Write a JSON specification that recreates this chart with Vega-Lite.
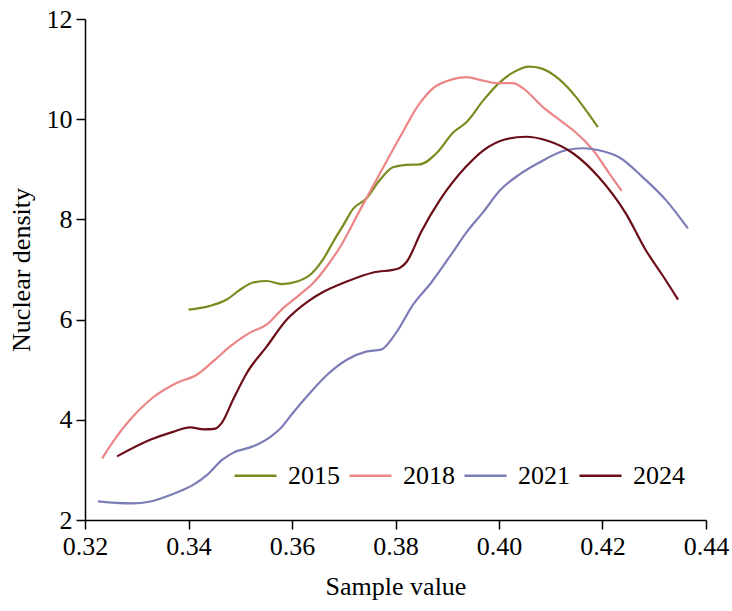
{
  "$schema": "https://vega.github.io/schema/vega-lite/v6.json",
  "width": 621,
  "height": 501,
  "autosize": {"type": "none"},
  "padding": {"left": 85, "top": 19, "right": 26, "bottom": 91},
  "background": "white",
  "config": {
    "view": {"stroke": null},
    "font": "Liberation Serif, Times New Roman, serif",
    "axis": {
      "grid": false,
      "labelFlush": false,
      "domainColor": "#000000",
      "domainWidth": 1.5,
      "tickColor": "#000000",
      "tickWidth": 1.5,
      "tickSize": 9,
      "labelColor": "#000000",
      "labelFont": "Liberation Serif, Times New Roman, serif",
      "labelFontSize": 26,
      "titleColor": "#000000",
      "titleFont": "Liberation Serif, Times New Roman, serif",
      "titleFontSize": 26,
      "titleFontWeight": "normal"
    }
  },
  "data": {
    "values": [
      {"x": 0.3400, "y": 6.20, "year": "2015"},
      {"x": 0.3440, "y": 6.27, "year": "2015"},
      {"x": 0.3474, "y": 6.40, "year": "2015"},
      {"x": 0.3500, "y": 6.60, "year": "2015"},
      {"x": 0.3525, "y": 6.74, "year": "2015"},
      {"x": 0.3551, "y": 6.77, "year": "2015"},
      {"x": 0.3580, "y": 6.71, "year": "2015"},
      {"x": 0.3610, "y": 6.76, "year": "2015"},
      {"x": 0.3638, "y": 6.92, "year": "2015"},
      {"x": 0.3660, "y": 7.20, "year": "2015"},
      {"x": 0.3680, "y": 7.56, "year": "2015"},
      {"x": 0.3700, "y": 7.90, "year": "2015"},
      {"x": 0.3718, "y": 8.21, "year": "2015"},
      {"x": 0.3743, "y": 8.41, "year": "2015"},
      {"x": 0.3770, "y": 8.79, "year": "2015"},
      {"x": 0.3795, "y": 9.04, "year": "2015"},
      {"x": 0.3820, "y": 9.09, "year": "2015"},
      {"x": 0.3847, "y": 9.10, "year": "2015"},
      {"x": 0.3880, "y": 9.33, "year": "2015"},
      {"x": 0.3911, "y": 9.73, "year": "2015"},
      {"x": 0.3938, "y": 9.95, "year": "2015"},
      {"x": 0.3970, "y": 10.38, "year": "2015"},
      {"x": 0.4002, "y": 10.74, "year": "2015"},
      {"x": 0.4030, "y": 10.95, "year": "2015"},
      {"x": 0.4058, "y": 11.05, "year": "2015"},
      {"x": 0.4080, "y": 11.02, "year": "2015"},
      {"x": 0.4116, "y": 10.80, "year": "2015"},
      {"x": 0.4149, "y": 10.44, "year": "2015"},
      {"x": 0.4170, "y": 10.15, "year": "2015"},
      {"x": 0.4191, "y": 9.84, "year": "2015"},

      {"x": 0.3233, "y": 3.23, "year": "2018"},
      {"x": 0.3260, "y": 3.65, "year": "2018"},
      {"x": 0.3287, "y": 4.00, "year": "2018"},
      {"x": 0.3332, "y": 4.45, "year": "2018"},
      {"x": 0.3378, "y": 4.74, "year": "2018"},
      {"x": 0.3416, "y": 4.90, "year": "2018"},
      {"x": 0.3448, "y": 5.17, "year": "2018"},
      {"x": 0.3480, "y": 5.46, "year": "2018"},
      {"x": 0.3519, "y": 5.74, "year": "2018"},
      {"x": 0.3551, "y": 5.90, "year": "2018"},
      {"x": 0.3580, "y": 6.20, "year": "2018"},
      {"x": 0.3615, "y": 6.50, "year": "2018"},
      {"x": 0.3641, "y": 6.73, "year": "2018"},
      {"x": 0.3670, "y": 7.10, "year": "2018"},
      {"x": 0.3693, "y": 7.45, "year": "2018"},
      {"x": 0.3731, "y": 8.18, "year": "2018"},
      {"x": 0.3770, "y": 8.92, "year": "2018"},
      {"x": 0.3809, "y": 9.65, "year": "2018"},
      {"x": 0.3847, "y": 10.32, "year": "2018"},
      {"x": 0.3873, "y": 10.62, "year": "2018"},
      {"x": 0.3911, "y": 10.80, "year": "2018"},
      {"x": 0.3938, "y": 10.84, "year": "2018"},
      {"x": 0.3965, "y": 10.78, "year": "2018"},
      {"x": 0.3998, "y": 10.72, "year": "2018"},
      {"x": 0.4027, "y": 10.72, "year": "2018"},
      {"x": 0.4046, "y": 10.62, "year": "2018"},
      {"x": 0.4085, "y": 10.24, "year": "2018"},
      {"x": 0.4124, "y": 9.93, "year": "2018"},
      {"x": 0.4149, "y": 9.73, "year": "2018"},
      {"x": 0.4182, "y": 9.38, "year": "2018"},
      {"x": 0.4213, "y": 8.92, "year": "2018"},
      {"x": 0.4237, "y": 8.57, "year": "2018"},

      {"x": 0.3225, "y": 2.37, "year": "2021"},
      {"x": 0.3260, "y": 2.34, "year": "2021"},
      {"x": 0.3293, "y": 2.33, "year": "2021"},
      {"x": 0.3326, "y": 2.37, "year": "2021"},
      {"x": 0.3370, "y": 2.52, "year": "2021"},
      {"x": 0.3409, "y": 2.70, "year": "2021"},
      {"x": 0.3436, "y": 2.90, "year": "2021"},
      {"x": 0.3465, "y": 3.20, "year": "2021"},
      {"x": 0.3486, "y": 3.34, "year": "2021"},
      {"x": 0.3525, "y": 3.47, "year": "2021"},
      {"x": 0.3557, "y": 3.65, "year": "2021"},
      {"x": 0.3577, "y": 3.82, "year": "2021"},
      {"x": 0.3602, "y": 4.14, "year": "2021"},
      {"x": 0.3635, "y": 4.54, "year": "2021"},
      {"x": 0.3668, "y": 4.90, "year": "2021"},
      {"x": 0.3706, "y": 5.20, "year": "2021"},
      {"x": 0.3743, "y": 5.36, "year": "2021"},
      {"x": 0.3772, "y": 5.40, "year": "2021"},
      {"x": 0.3800, "y": 5.72, "year": "2021"},
      {"x": 0.3834, "y": 6.30, "year": "2021"},
      {"x": 0.3870, "y": 6.75, "year": "2021"},
      {"x": 0.3905, "y": 7.26, "year": "2021"},
      {"x": 0.3940, "y": 7.78, "year": "2021"},
      {"x": 0.3969, "y": 8.14, "year": "2021"},
      {"x": 0.4002, "y": 8.58, "year": "2021"},
      {"x": 0.4040, "y": 8.90, "year": "2021"},
      {"x": 0.4077, "y": 9.13, "year": "2021"},
      {"x": 0.4129, "y": 9.38, "year": "2021"},
      {"x": 0.4162, "y": 9.42, "year": "2021"},
      {"x": 0.4193, "y": 9.38, "year": "2021"},
      {"x": 0.4232, "y": 9.24, "year": "2021"},
      {"x": 0.4278, "y": 8.84, "year": "2021"},
      {"x": 0.4323, "y": 8.38, "year": "2021"},
      {"x": 0.4365, "y": 7.82, "year": "2021"},

      {"x": 0.3262, "y": 3.27, "year": "2024"},
      {"x": 0.3326, "y": 3.60, "year": "2024"},
      {"x": 0.3370, "y": 3.76, "year": "2024"},
      {"x": 0.3403, "y": 3.85, "year": "2024"},
      {"x": 0.3430, "y": 3.81, "year": "2024"},
      {"x": 0.3450, "y": 3.82, "year": "2024"},
      {"x": 0.3465, "y": 3.95, "year": "2024"},
      {"x": 0.3486, "y": 4.40, "year": "2024"},
      {"x": 0.3513, "y": 4.94, "year": "2024"},
      {"x": 0.3551, "y": 5.46, "year": "2024"},
      {"x": 0.3590, "y": 6.00, "year": "2024"},
      {"x": 0.3629, "y": 6.35, "year": "2024"},
      {"x": 0.3660, "y": 6.55, "year": "2024"},
      {"x": 0.3706, "y": 6.76, "year": "2024"},
      {"x": 0.3757, "y": 6.94, "year": "2024"},
      {"x": 0.3803, "y": 7.01, "year": "2024"},
      {"x": 0.3822, "y": 7.16, "year": "2024"},
      {"x": 0.3850, "y": 7.76, "year": "2024"},
      {"x": 0.3886, "y": 8.39, "year": "2024"},
      {"x": 0.3936, "y": 9.05, "year": "2024"},
      {"x": 0.3970, "y": 9.38, "year": "2024"},
      {"x": 0.4013, "y": 9.60, "year": "2024"},
      {"x": 0.4052, "y": 9.65, "year": "2024"},
      {"x": 0.4091, "y": 9.58, "year": "2024"},
      {"x": 0.4143, "y": 9.32, "year": "2024"},
      {"x": 0.4193, "y": 8.84, "year": "2024"},
      {"x": 0.4245, "y": 8.12, "year": "2024"},
      {"x": 0.4284, "y": 7.38, "year": "2024"},
      {"x": 0.4315, "y": 6.90, "year": "2024"},
      {"x": 0.4346, "y": 6.40, "year": "2024"}
    ]
  },
  "mark": {"type": "line", "interpolate": "monotone", "strokeWidth": 2.2},
  "encoding": {
    "x": {
      "field": "x",
      "type": "quantitative",
      "title": "Sample value",
      "scale": {"domain": [0.32, 0.44], "nice": false, "zero": false},
      "axis": {"values": [0.32, 0.34, 0.36, 0.38, 0.40, 0.42, 0.44], "format": ".2f", "labelPadding": 4, "titlePadding": 14}
    },
    "y": {
      "field": "y",
      "type": "quantitative",
      "title": "Nuclear density",
      "scale": {"domain": [2, 12], "nice": false, "zero": false},
      "axis": {"values": [2, 4, 6, 8, 10, 12], "format": "d", "labelPadding": 4, "titlePadding": 12}
    },
    "color": {
      "field": "year",
      "type": "nominal",
      "scale": {"domain": ["2015", "2018", "2021", "2024"], "range": ["#7d8a1f", "#ec8585", "#7c7cb6", "#6b0e18"]},
      "legend": {
        "title": null,
        "orient": "none",
        "direction": "horizontal",
        "legendX": 148,
        "legendY": 434,
        "symbolType": "stroke",
        "symbolSize": 1764,
        "symbolStrokeWidth": 2.5,
        "labelFont": "Liberation Serif, Times New Roman, serif",
        "labelFontSize": 26,
        "labelColor": "#000000",
        "labelOffset": 10,
        "columnPadding": 4
      }
    }
  }
}
